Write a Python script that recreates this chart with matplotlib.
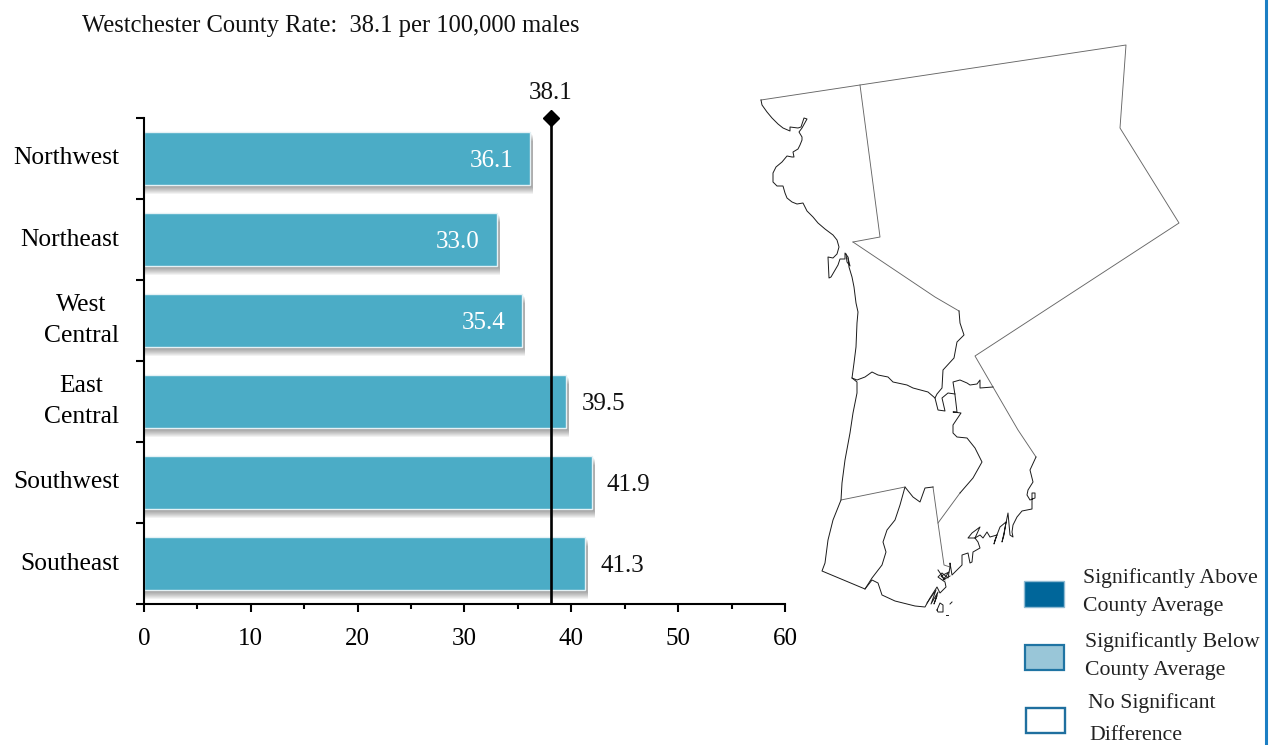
import matplotlib
matplotlib.use('Agg')
import matplotlib.pyplot as plt
from matplotlib.patches import Rectangle

plt.rcParams['font.family'] = ['Liberation Serif', 'DejaVu Serif']

regions = ['Northwest', 'Northeast', 'West\nCentral', 'East\nCentral', 'Southwest', 'Southeast']
rates = [36.1, 33.0, 35.4, 39.5, 41.9, 41.3]
county_rate = 38.1
x_ticks = [0, 10, 20, 30, 40, 50, 60]
x_minor = [5, 15, 25, 35, 45, 55]
title = 'Westchester County Rate:  38.1 per 100,000 males'

# legend: box fill, box edge
legend_fills = ['#00669A', '#99C6D8', '#FFFFFF']
legend_edges = ['#8FBBD3', '#1F74A3', '#1F6F9F']

# map outlines (x, y in picture pixels)
top_edge = [(761, 100), (860, 85), (1126, 45), (1120, 128), (1179, 223), (975, 356),
            (993, 387), (1018, 430), (1036, 457)]
northwest_east = [(860, 85), (880, 237), (853, 242)]
northeast_south = [(853, 242), (935, 297), (959, 311)]
borders = [top_edge, northwest_east, northeast_south, [(938, 523), (960, 493)],
           [(841, 500), (905, 487)], [(933, 487), (938, 523), (944, 565), (950, 567)]]

hudson = [(761, 100), (762, 105), (767, 112), (772, 118), (778, 124), (783, 128), (790, 131),
          (790, 127), (798, 128), (801, 127), (804, 118), (807, 119), (802, 128), (799, 132),
          (802, 137), (802, 140), (800, 145), (798, 149), (793, 152), (794, 157), (792, 157),
          (787, 156), (782, 162), (776, 167), (773, 173), (773, 182), (777, 186), (783, 186),
          (785, 193), (787, 198), (792, 202), (797, 204), (803, 203), (807, 211), (813, 217),
          (818, 223), (825, 229), (833, 235), (837, 240), (839, 247), (837, 254), (833, 258),
          (828, 257), (829, 278), (831, 277), (838, 265), (840, 259), (845, 259), (845, 253),
          (848, 257), (849, 267), (852, 277), (854, 287), (856, 303), (858, 312), (857, 323),
          (856, 347), (854, 363), (852, 378), (857, 382), (857, 393), (853, 413), (850, 433),
          (845, 460), (842, 483), (841, 500), (833, 520), (828, 540), (825, 563), (822, 571),
          (865, 589), (872, 578), (882, 565), (886, 552), (883, 542), (887, 530), (895, 520),
          (900, 505), (905, 487), (913, 497), (920, 502), (925, 488), (933, 487)]
hudson_islet = [(846, 254), (847, 262), (850, 266), (848, 258)]
east_central_east = [(960, 493), (973, 478), (982, 462), (975, 448), (967, 438), (957, 437),
                     (953, 433), (953, 425), (961, 413), (953, 412), (957, 412), (955, 395),
                     (953, 382), (960, 380), (967, 383), (970, 385), (977, 384), (980, 380),
                     (980, 388), (993, 387)]
west_central_south = [(852, 378), (857, 380), (865, 377), (872, 372), (878, 375), (888, 377),
                      (893, 382), (907, 385), (913, 388), (928, 392), (935, 398), (938, 410),
                      (945, 411), (942, 398), (948, 393), (955, 394)]
northeast_west_central = [(959, 311), (960, 323), (964, 335), (957, 342), (954, 358), (943, 370),
                          (942, 388), (937, 394), (935, 398)]
sound_shore = [(1036, 457), (1030, 470), (1033, 482), (1028, 490), (1027, 495), (1030, 500),
               (1035, 498), (1035, 493), (1032, 493), (1032, 500), (1032, 509), (1022, 511),
               (1017, 517), (1013, 525), (1012, 532), (1013, 537), (1010, 535), (1008, 513),
               (1004, 533), (1002, 542), (1004, 535), (1006, 522), (1000, 527), (995, 540),
               (994, 544), (997, 535), (990, 537), (987, 532), (983, 538), (980, 535),
               (975, 538), (968, 538), (972, 533), (980, 527), (975, 538), (978, 542),
               (980, 548), (973, 552), (972, 562), (970, 563), (968, 553), (962, 555),
               (962, 565), (957, 570), (952, 575), (950, 563), (950, 567), (948, 578),
               (942, 573), (938, 577), (945, 582), (946, 587), (940, 593), (937, 587),
               (930, 598), (925, 607), (915, 606), (895, 601), (882, 595), (878, 583),
               (872, 580), (865, 589)]
shore_marsh_a = [(927, 603), (936, 590), (931, 604), (938, 592), (934, 604), (937, 596)]
shore_marsh_b = [(938, 570), (945, 580), (941, 576), (949, 572), (943, 580), (950, 576)]
island = [(937, 610), (940, 603), (943, 605), (943, 612), (938, 612), (937, 610)]
speck_a = [(950, 604), (952, 602)]
speck_b = [(946, 615), (948, 615)]
coast_lines = [hudson, hudson_islet, east_central_east, west_central_south,
               northeast_west_central, sound_shore, shore_marsh_a, shore_marsh_b,
               island, speck_a, speck_b]

WIDTH, HEIGHT = 1272, 745
BAR_COLOR = '#4BACC6'
TEXT_SIZE = 18


def main():
    fig = plt.figure(figsize=(WIDTH / 100, HEIGHT / 100), dpi=100)

    # pixel-space layer for the map, the legend and the free text
    overlay = fig.add_axes([0, 0, 1, 1])
    overlay.set_xlim(0, WIDTH)
    overlay.set_ylim(HEIGHT, 0)
    overlay.axis('off')

    overlay.text(82, 26, title, fontsize=17.7, va='center', color='#111111')

    for outline in borders:
        overlay.plot([p[0] for p in outline], [p[1] for p in outline], color='#666666', lw=0.65)
    for outline in coast_lines:
        overlay.plot([p[0] for p in outline], [p[1] for p in outline], color='#1a1a1a', lw=0.7,
                     solid_joinstyle='round')

    draw_legend(overlay)
    overlay.plot([1266, 1266], [0, HEIGHT], color='#1C7FC4', lw=2.2)

    draw_bars(fig)
    fig.savefig('out.png', dpi=100)


def draw_bars(fig):
    ax = fig.add_axes([144 / WIDTH, 1 - 604 / HEIGHT, 641 / WIDTH, 486 / HEIGHT])
    ax.patch.set_alpha(0)
    positions = list(range(len(regions)))

    # soft drop shadow, stacked translucent bars
    unit_y = 1 / 81
    unit_x = 60 / 641
    for step in range(9, 0, -1):
        ax.barh([p + step * unit_y for p in positions],
                [r + min(step, 3) * unit_x for r in rates],
                height=0.65, color='black', alpha=0.05, lw=0, zorder=1)
    ax.barh(positions, rates, height=0.65, color=BAR_COLOR, edgecolor='#E4F1F5', lw=1.0, zorder=2)

    ax.set_xlim(0, 60)
    ax.set_ylim(5.5, -0.5)
    for side in ['top', 'right']:
        ax.spines[side].set_visible(False)
    for side in ['left', 'bottom']:
        ax.spines[side].set_linewidth(1.5)

    ax.set_xticks(x_ticks)
    ax.set_xticks(x_minor, minor=True)
    ax.tick_params(axis='x', which='major', length=6, width=1.5, labelsize=TEXT_SIZE, pad=11)
    ax.tick_params(axis='x', which='minor', length=3.5, width=1.5)

    ax.set_yticks(positions)
    ax.set_yticklabels(regions, multialignment='center', linespacing=1.55, va='center')
    ax.set_yticks([p - 0.5 for p in positions] + [5.5], minor=True)
    ax.tick_params(axis='y', which='major', length=0, labelsize=18.4, pad=18)
    ax.tick_params(axis='y', which='minor', length=6, width=1.5)

    for pos, rate in zip(positions, rates):
        inside = rate < county_rate
        ax.annotate(f'{rate:.1f}', xy=(rate, pos), xytext=(-12 if inside else 11, -2),
                    textcoords='offset points', ha='right' if inside else 'left',
                    va='center', fontsize=TEXT_SIZE, color='white' if inside else '#111111',
                    zorder=4)

    # county reference line
    ax.plot([county_rate, county_rate], [5.5, -0.5], color='black', lw=1.9, zorder=3,
            solid_capstyle='butt')
    ax.plot([county_rate], [-0.5], marker='D', color='black', ms=8.5, clip_on=False, zorder=5)
    ax.annotate(f'{county_rate}', xy=(county_rate, -0.5), xytext=(0, 18),
                textcoords='offset points', ha='center', va='center', fontsize=TEXT_SIZE,
                color='#111111', annotation_clip=False)


def draw_legend(overlay):
    boxes = [(1024, 581, 40, 26, 1.0), (1025, 645, 39, 25, 1.6), (1026, 708, 39, 25, 1.7)]
    for (x, y, w, h, lw), fill, edge in zip(boxes, legend_fills, legend_edges):
        overlay.add_patch(Rectangle((x, y), w, h, facecolor=fill, edgecolor=edge, lw=lw))

    lines = [(1083, 578, 'Significantly Above'), (1083, 606, 'County Average'),
             (1085, 642, 'Significantly Below'), (1085, 670, 'County Average'),
             (1088, 703, 'No Significant'), (1089, 735, 'Difference')]
    for x, y, text in lines:
        overlay.text(x, y, text, fontsize=15.7, va='center', color='#222222')


if __name__ == "__main__":
    main()
